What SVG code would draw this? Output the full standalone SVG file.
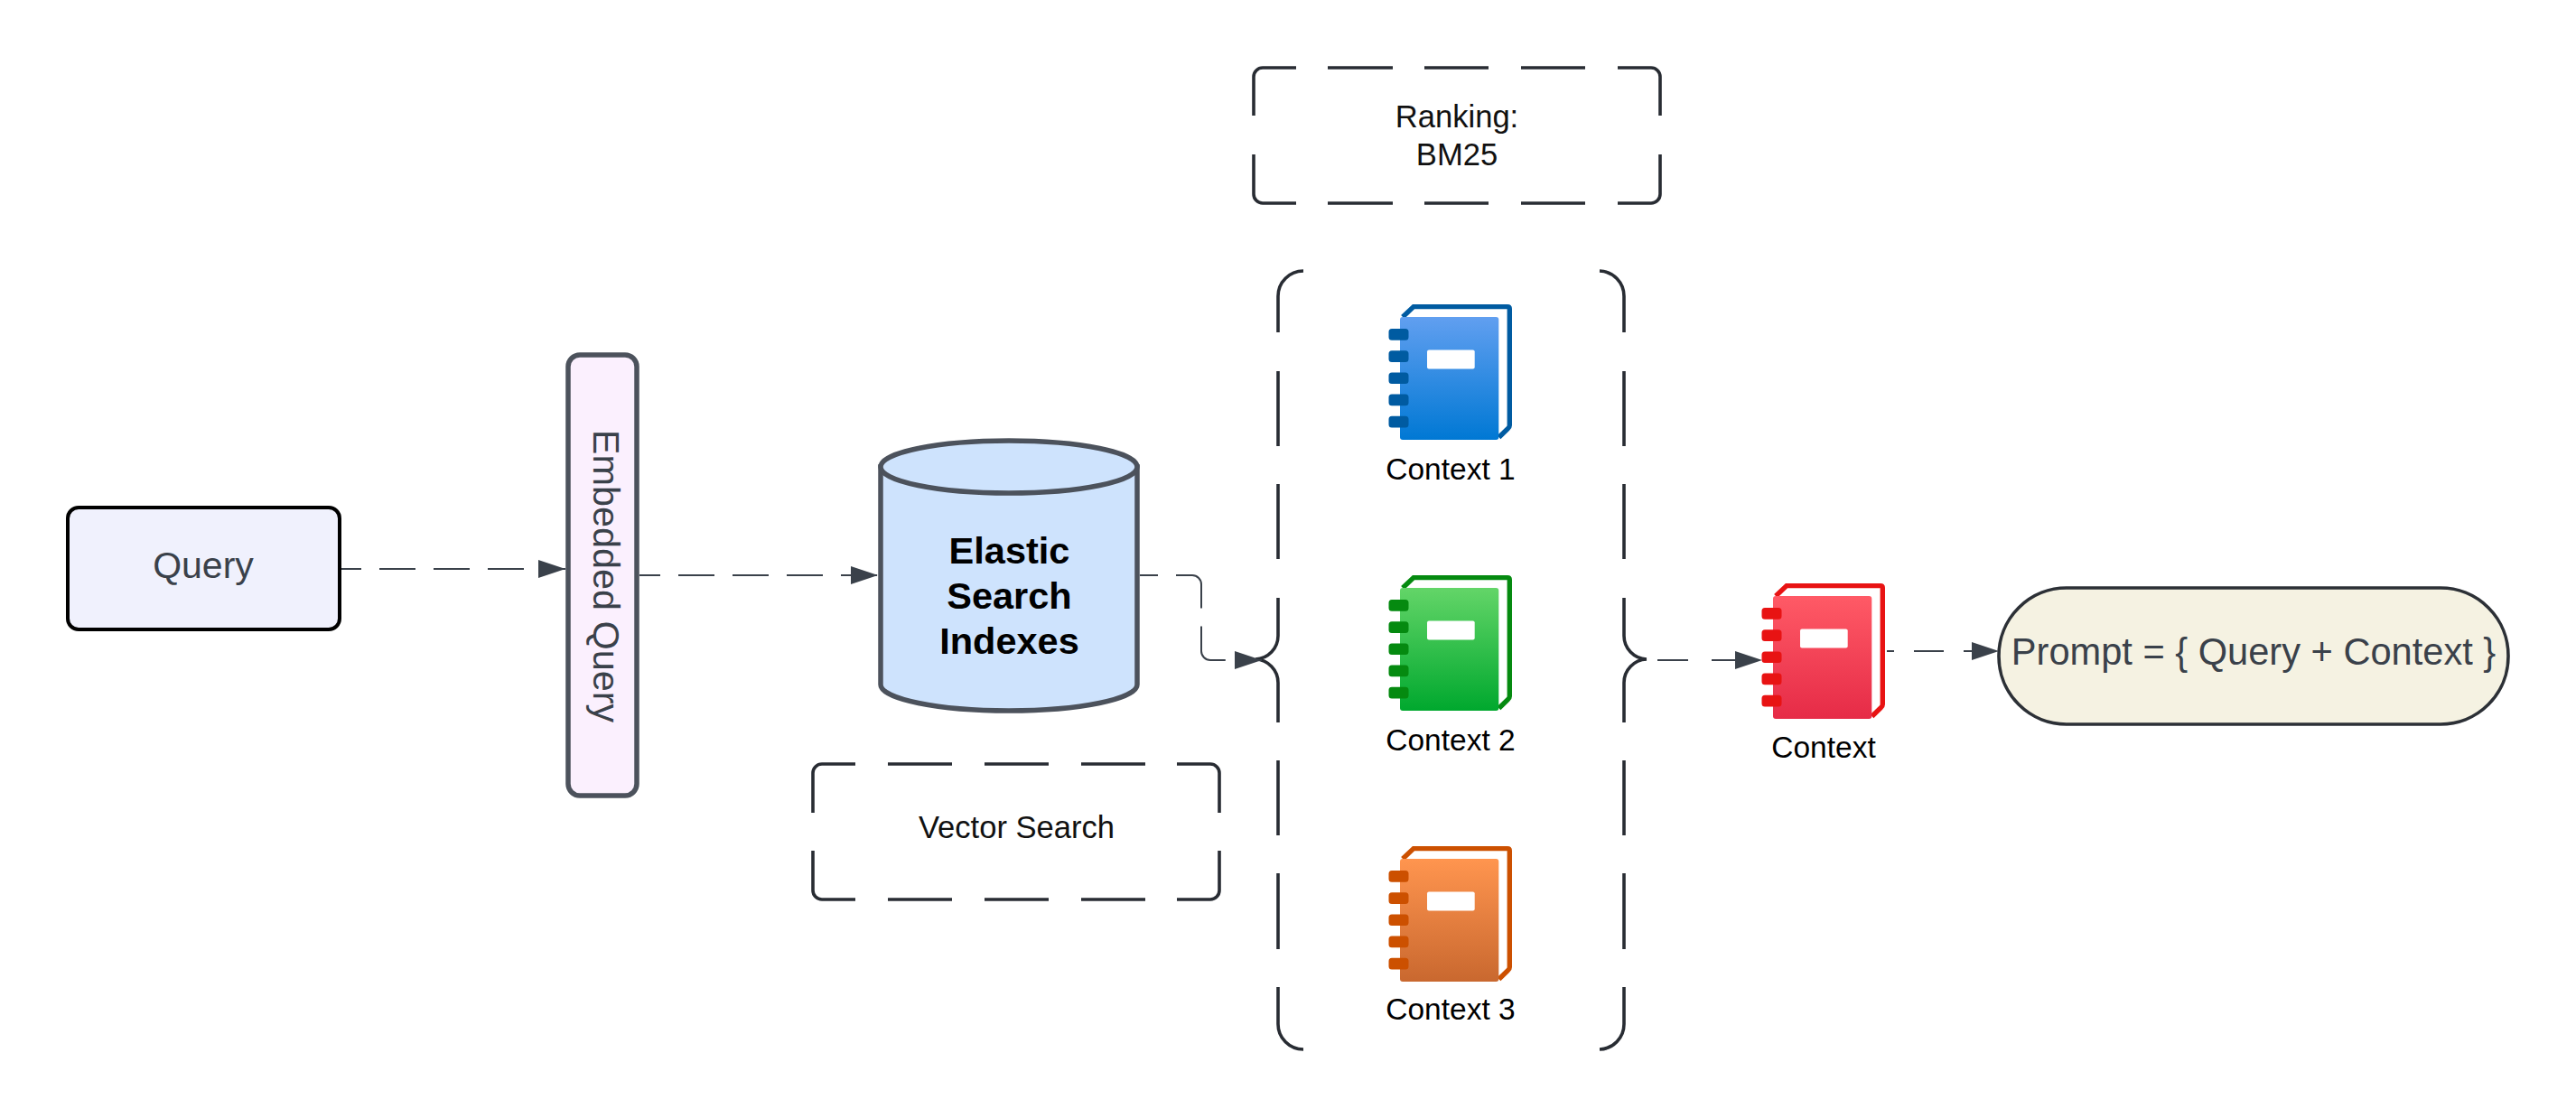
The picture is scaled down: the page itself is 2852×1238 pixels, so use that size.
<svg xmlns="http://www.w3.org/2000/svg" width="2852" height="1238" viewBox="0 0 2852 1238">
<style>
text{font-family:"Liberation Sans",Arial,sans-serif}
.lbl{font-size:34.600px;fill:#111;text-anchor:middle}
.ctx{font-size:33.500px;fill:#000;text-anchor:middle}
.big{font-size:41px;fill:#3a414a;text-anchor:middle}
.bold{font-size:41.500px;font-weight:700;fill:#000;text-anchor:middle}
.dash{fill:none;stroke:#282c33;stroke-width:3.600}
.con{fill:none;stroke:#3a414a;stroke-width:2}
</style>
<defs>
<marker id="arr" markerUnits="userSpaceOnUse" markerWidth="32" markerHeight="22" refX="30" refY="10" orient="auto"><path d="M0 0L30 10L0 20Z" fill="#3a414a"/></marker>
<linearGradient id="gBlue" x1="0" y1="0" x2="0" y2="1"><stop offset="0" stop-color="#619ff0"/><stop offset="1" stop-color="#0078d4"/></linearGradient>
<linearGradient id="gGreen" x1="0" y1="0" x2="0" y2="1"><stop offset="0" stop-color="#63d568"/><stop offset="1" stop-color="#00a82e"/></linearGradient>
<linearGradient id="gOrange" x1="0" y1="0" x2="0" y2="1"><stop offset="0" stop-color="#ff954f"/><stop offset="1" stop-color="#c9682f"/></linearGradient>
<linearGradient id="gRed" x1="0" y1="0" x2="0" y2="1"><stop offset="0" stop-color="#ff5a66"/><stop offset="1" stop-color="#e62b47"/></linearGradient>
<path id="bkBack" d="M3 0L15 -11.400H119Q121.300 -11.400 121.300 -9V120Q121.300 122 119.500 123.500L109.500 133.300"/>
<rect id="bkFront" x="0" y="0" width="109.300" height="136" rx="3"/>
<rect id="bkTag" x="30" y="36.600" width="52.700" height="21" rx="2" fill="#fff"/>
<path id="bkRings" d="M-9 13h15a3.500 3.500 0 0 1 3.500 3.500v5.700a3.500 3.500 0 0 1 -3.500 3.500h-15a3.500 3.500 0 0 1 -3.500 -3.500v-5.700a3.500 3.500 0 0 1 3.500 -3.500zM-9 37.200h15a3.500 3.500 0 0 1 3.500 3.500v5.700a3.500 3.500 0 0 1 -3.500 3.500h-15a3.500 3.500 0 0 1 -3.500 -3.500v-5.700a3.500 3.500 0 0 1 3.500 -3.500zM-9 61.400h15a3.500 3.500 0 0 1 3.500 3.500v5.700a3.500 3.500 0 0 1 -3.500 3.500h-15a3.500 3.500 0 0 1 -3.500 -3.500v-5.700a3.500 3.500 0 0 1 3.500 -3.500zM-9 85.600h15a3.500 3.500 0 0 1 3.500 3.500v5.700a3.500 3.500 0 0 1 -3.500 3.500h-15a3.500 3.500 0 0 1 -3.500 -3.500v-5.700a3.500 3.500 0 0 1 3.500 -3.500zM-9 109.800h15a3.500 3.500 0 0 1 3.500 3.500v5.700a3.500 3.500 0 0 1 -3.500 3.500h-15a3.500 3.500 0 0 1 -3.500 -3.500v-5.700a3.500 3.500 0 0 1 3.500 -3.500z"/>
</defs>
<rect width="2852" height="1238" fill="#fff"/>

<g id="ranking">
<path class="dash" d="M1388 128V85A10 10 0 0 1 1398 75H1435M1470 75H1542M1577 75H1648M1684 75H1755M1791 75H1828A10 10 0 0 1 1838 85V128M1838 171V215A10 10 0 0 1 1828 225H1791M1755 225H1684M1648 225H1577M1542 225H1470M1435 225H1398A10 10 0 0 1 1388 215V171"/>
<text class="lbl" x="1613" y="141">Ranking:</text>
<text class="lbl" x="1613" y="183">BM25</text>
</g>

<g id="vector-search">
<path class="dash" d="M900 900V856A10 10 0 0 1 910 846H947M983 846H1054M1090 846H1161M1197 846H1268M1303 846H1340A10 10 0 0 1 1350 856V900M1350 942V986A10 10 0 0 1 1340 996H1303M1268 996H1197M1161 996H1090M1054 996H983M947 996H910A10 10 0 0 1 900 986V942"/>
<text class="lbl" x="1125.500" y="928">Vector Search</text>
</g>

<g id="brace-left">
<path class="dash" d="M1443 300A28 28 0 0 0 1415 328V368M1415 411V494M1415 536V619M1415 662V704A26 26 0 0 1 1390 730A26 26 0 0 1 1415 756V800M1415 842V925M1415 967V1051M1415 1093V1134A28 28 0 0 0 1443 1162"/>
</g>
<g id="brace-right">
<path class="dash" d="M1771 300A28 28 0 0 1 1798 328V368M1798 411V494M1798 536V619M1798 662V704A26 26 0 0 0 1823 730A26 26 0 0 0 1798 756V800M1798 842V925M1798 967V1051M1798 1093V1134A28 28 0 0 1 1771 1162"/>
</g>

<g id="connectors">
<path class="con" d="M377 630H626" stroke-dasharray="40 20" stroke-dashoffset="17" marker-end="url(#arr)"/>
<path class="con" d="M708 637H972" stroke-dasharray="40 20" stroke-dashoffset="17" marker-end="url(#arr)"/>
<path class="con" d="M1262 637H1320A10 10 0 0 1 1330 647V721A10 10 0 0 0 1340 731H1397" stroke-dasharray="60 20" stroke-dashoffset="40" marker-end="url(#arr)"/>
<path class="con" d="M1835 731H1951" stroke-dasharray="34 26" marker-end="url(#arr)"/>
<path class="con" d="M2089 721H2213" stroke-dasharray="33 22" stroke-dashoffset="25" marker-end="url(#arr)"/>
</g>

<g id="query">
<rect x="75" y="562" width="301" height="135" rx="12" fill="#f0f1fd" stroke="#000" stroke-width="4"/>
<text class="big" x="225" y="640">Query</text>
</g>

<g id="embedded-query">
<rect x="629" y="393" width="76" height="488" rx="13" fill="#fbf0fe" stroke="#4c525c" stroke-width="5.500"/>
<text class="big" style="font-size:41.400px" transform="translate(657 638) rotate(90)">Embedded Query</text>
</g>

<g id="elastic-search">
<path d="M975 517V758C975 774 1039 787 1117 787S1259 774 1259 758V517Z" fill="#cee3fd" stroke="#4c525c" stroke-width="5.500"/>
<ellipse cx="1117" cy="517" rx="142" ry="29" fill="#cee3fd" stroke="#4c525c" stroke-width="5.500"/>
<text class="bold" x="1117.500" y="624">Elastic</text>
<text class="bold" x="1117.500" y="674">Search</text>
<text class="bold" x="1117.500" y="724">Indexes</text>
</g>

<g id="context-1">
<g transform="translate(1550 351)">
<use href="#bkBack" fill="none" stroke="#005ba1" stroke-width="5.400"/>
<use href="#bkFront" fill="url(#gBlue)"/><use href="#bkTag"/><use href="#bkRings" fill="#005ba1"/>
</g>
<text class="ctx" x="1606" y="531">Context 1</text>
</g>

<g id="context-2">
<g transform="translate(1550 651)">
<use href="#bkBack" fill="none" stroke="#058a10" stroke-width="5.400"/>
<use href="#bkFront" fill="url(#gGreen)"/><use href="#bkTag"/><use href="#bkRings" fill="#058a10"/>
</g>
<text class="ctx" x="1606" y="831">Context 2</text>
</g>

<g id="context-3">
<g transform="translate(1550 951)">
<use href="#bkBack" fill="none" stroke="#cc5000" stroke-width="5.400"/>
<use href="#bkFront" fill="url(#gOrange)"/><use href="#bkTag"/><use href="#bkRings" fill="#cc5000"/>
</g>
<text class="ctx" x="1606" y="1129">Context 3</text>
</g>

<g id="context">
<g transform="translate(1963 660)">
<use href="#bkBack" fill="none" stroke="#e81313" stroke-width="5.400"/>
<use href="#bkFront" fill="url(#gRed)"/><use href="#bkTag"/><use href="#bkRings" fill="#e81313"/>
</g>
<text class="ctx" x="2019" y="839">Context</text>
</g>

<g id="prompt">
<rect x="2213" y="651" width="564" height="151" rx="75" fill="#f5f2e2" stroke="#2c3036" stroke-width="3.600"/>
<text class="big" x="2495" y="736" style="font-size:41.600px">Prompt = { Query + Context }</text>
</g>
</svg>
